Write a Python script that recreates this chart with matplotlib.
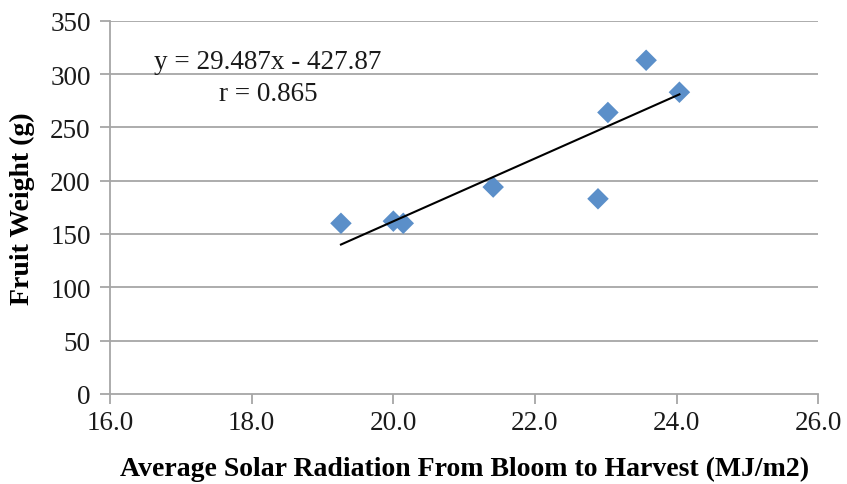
import matplotlib
matplotlib.use("Agg")
import matplotlib.pyplot as plt
import numpy as np

# data
radiation = [19.26, 20.0, 20.14, 21.41, 22.89, 23.03, 23.57, 24.04]
fruit_weight = [160, 162, 160, 194, 183, 264, 313, 283]
slope, intercept = 29.487, -427.87

x_ticks = [16.0, 18.0, 20.0, 22.0, 24.0, 26.0]
y_ticks = [0, 50, 100, 150, 200, 250, 300, 350]

plt.rcParams['font.family'] = ['Liberation Serif', 'DejaVu Serif']

fig = plt.figure(figsize=(8.47, 4.85), dpi=100)
ax = fig.add_axes([0.130, 0.186, 0.836, 0.769])

grid_color = '#a6a6a6'
for y in y_ticks[1:]:
    ax.axhline(y, color=grid_color, lw=1.3, zorder=0)

ax.scatter(radiation, fruit_weight, marker='D', s=120, color='#5b8fc9',
           edgecolors='none', zorder=3)

# linear trendline over the data range
xs = np.array([min(radiation), max(radiation)])
ax.plot(xs, slope * xs + intercept, color='black', lw=1.5, zorder=4)

ax.set_xlim(16, 26)
ax.set_ylim(0, 350)
ax.set_xticks(x_ticks)
ax.set_xticklabels([f'{t:.1f}' for t in x_ticks])
ax.set_yticks(y_ticks)

for side in ['top', 'right']:
    ax.spines[side].set_visible(False)
for side in ['left', 'bottom']:
    ax.spines[side].set_color(grid_color)
    ax.spines[side].set_linewidth(1.3)

ax.tick_params(axis='both', colors=grid_color, labelcolor='#1a1a1a',
               labelsize=19.5, length=7, width=1.3)
ax.tick_params(axis='x', pad=5)
ax.tick_params(axis='y', pad=7)

ax.set_xlabel('Average Solar Radiation From Bloom to Harvest (MJ/m2)',
              fontsize=20, fontweight='bold', labelpad=15)
ax.set_ylabel('Fruit Weight (g)', fontsize=20, fontweight='bold', labelpad=11)

ax.text(18.23, 312, 'y = 29.487x - 427.87', ha='center', va='center',
        fontsize=19.5, color='#1a1a1a')
ax.text(18.23, 282, 'r = 0.865', ha='center', va='center',
        fontsize=19.5, color='#1a1a1a')

fig.savefig('out.png', dpi=100)
